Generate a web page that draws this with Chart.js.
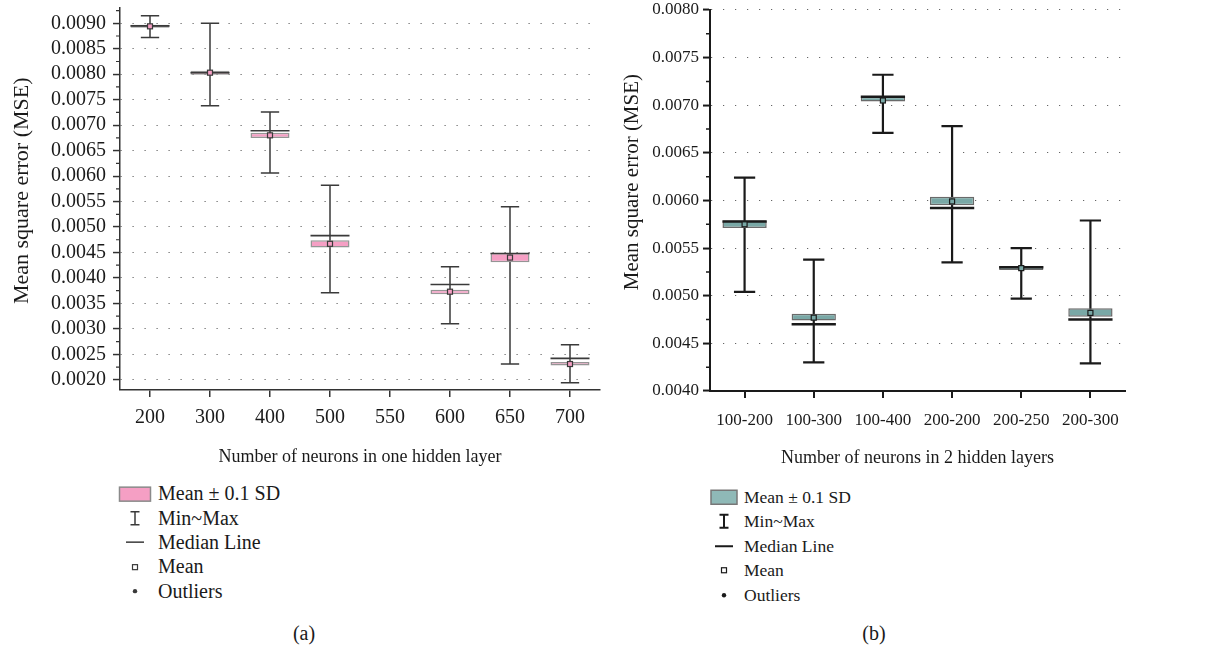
<!DOCTYPE html>
<html>
<head>
<meta charset="utf-8">
<script src="https://cdn.jsdelivr.net/npm/chart.js@4.4.1/dist/chart.umd.min.js"></script>
<style>
  body { margin: 0; background: #fff; width: 1215px; height: 647px; overflow: hidden; position: relative;
         font-family: "Liberation Serif", "Times New Roman", serif; color: #1a1a1a; }
  canvas { position: absolute; top: 0; }
  #chartA { left: 0; }
  #chartB { left: 600px; }
  .row { position: absolute; display: flex; align-items: center; white-space: nowrap; }
  .row svg { flex: none; }
  .cap { position: absolute; font-size: 20px; transform: translate(-50%, -50%); }
</style>
</head>
<body>
<canvas id="chartA" width="605" height="480"></canvas>
<canvas id="chartB" width="615" height="480"></canvas>
<div id="legendA"></div>
<div id="legendB"></div>
<div class="cap" style="left:304px; top:633px;">(a)</div>
<div class="cap" style="left:874px; top:633px;">(b)</div>
<script>
// panel (a): one hidden layer
const leftCats    = ['200', '300', '400', '500', '550', '600', '650', '700'];
const leftMin     = [0.00872, 0.00738, 0.00606, 0.00371, null, 0.00310, 0.00231, 0.00194];
const leftMax     = [0.00915, 0.00900, 0.00726, 0.00582, null, 0.00422, 0.00540, 0.00269];
const leftMean    = [0.00894, 0.00803, 0.00680, 0.00467, null, 0.00373, 0.00440, 0.00231];
const leftMedian  = [0.00895, 0.00803, 0.00689, 0.00483, null, 0.00387, 0.00448, 0.00242];
const leftBoxLow  = [0.00891, 0.00799, 0.00675, 0.00460, null, 0.00368, 0.00431, 0.00228];
const leftBoxHigh = [0.00897, 0.00807, 0.00685, 0.00474, null, 0.00377, 0.00449, 0.00235];
const leftTicks   = [0.0020, 0.0025, 0.0030, 0.0035, 0.0040, 0.0045, 0.0050, 0.0055,
                     0.0060, 0.0065, 0.0070, 0.0075, 0.0080, 0.0085, 0.0090];

// panel (b): two hidden layers
const rightCats    = ['100-200', '100-300', '100-400', '200-200', '200-250', '200-300'];
const rightMin     = [0.00504, 0.00430, 0.00671, 0.00535, 0.00497, 0.00429];
const rightMax     = [0.00624, 0.00538, 0.00732, 0.00678, 0.00550, 0.00579];
const rightMean    = [0.00575, 0.00477, 0.00705, 0.00599, 0.00529, 0.00482];
const rightMedian  = [0.00578, 0.00470, 0.00709, 0.00592, 0.00530, 0.00475];
const rightBoxLow  = [0.00571, 0.00474, 0.00704, 0.00595, 0.00527, 0.00478];
const rightBoxHigh = [0.00579, 0.00481, 0.00709, 0.00604, 0.00531, 0.00487];
const rightTicks   = [0.0040, 0.0045, 0.0050, 0.0055, 0.0060, 0.0065, 0.0070, 0.0075, 0.0080];

const legendItems = ['Mean \u00b1 0.1 SD', 'Min~Max', 'Median Line', 'Mean', 'Outliers'];

const FONT = '"Liberation Serif", serif';

// whiskers, medians, means and the minor y ticks are drawn here, from the chart's own scales
const boxParts = (s) => ({
    id: 'boxParts',
    beforeDatasetsDraw(chart) {
        const { ctx, scales: { x, y } } = chart;
        const bars = chart.getDatasetMeta(0).data;
        ctx.save();
        ctx.strokeStyle = s.ink;
        ctx.lineWidth = s.whiskerW;
        s.min.forEach((lo, i) => {
            if (lo === null) return;
            const cx = x.getPixelForValue(i);
            const yLo = y.getPixelForValue(lo);
            const yHi = y.getPixelForValue(s.max[i]);
            const hw = bars[i].width * s.capRatio / 2;
            ctx.beginPath();
            ctx.moveTo(cx, yLo); ctx.lineTo(cx, yHi);
            ctx.moveTo(cx - hw, yLo); ctx.lineTo(cx + hw, yLo);
            ctx.moveTo(cx - hw, yHi); ctx.lineTo(cx + hw, yHi);
            ctx.stroke();
        });
        ctx.restore();
    },
    afterDatasetsDraw(chart) {
        const { ctx, scales: { x, y } } = chart;
        const bars = chart.getDatasetMeta(0).data;
        ctx.save();
        s.median.forEach((m, i) => {
            if (m === null) return;
            const cx = x.getPixelForValue(i);
            const hw = bars[i].width / 2;
            const ym = y.getPixelForValue(m);
            ctx.strokeStyle = s.ink;
            ctx.lineWidth = s.medianW;
            ctx.beginPath();
            ctx.moveTo(cx - hw, ym); ctx.lineTo(cx + hw, ym);
            ctx.stroke();
            // mean marker
            const yv = y.getPixelForValue(s.mean[i]);
            ctx.fillStyle = s.fill;
            ctx.lineWidth = 1.2;
            ctx.fillRect(cx - 2.5, yv - 2.5, 5, 5);
            ctx.strokeRect(cx - 2.5, yv - 2.5, 5, 5);
        });
        ctx.restore();
    },
    afterDraw(chart) {
        const { ctx, scales: { y } } = chart;
        const step = s.ticks[1] - s.ticks[0];
        ctx.save();
        ctx.strokeStyle = s.axis;
        ctx.lineWidth = s.axisW * 0.8;
        ctx.beginPath();
        for (let k = -1; k < s.ticks.length; k++) {
            const v = s.ticks[0] + (k + 0.5) * step;
            if (v < y.min || v > y.max) continue;
            const py = y.getPixelForValue(v);
            ctx.moveTo(y.right, py); ctx.lineTo(y.right - 4, py);
        }
        ctx.stroke();
        ctx.restore();
    }
});

const drawPanel = (id, s) => {
    new Chart(document.getElementById(id), {
        type: 'bar',
        data: {
            labels: s.cats,
            datasets: [{
                data: s.boxLow.map((v, i) => v === null ? null : [v, s.boxHigh[i]]),
                backgroundColor: s.fill,
                borderColor: s.edge,
                borderWidth: 1.5,
                borderSkipped: false,
                barPercentage: s.barPct,
                categoryPercentage: 1
            }]
        },
        options: {
            responsive: false,
            animation: false,
            layout: { padding: s.pad },
            plugins: { legend: { display: false }, tooltip: { enabled: false } },
            scales: {
                x: {
                    grid: { drawOnChartArea: false, offset: false, tickLength: 7, color: s.axis, lineWidth: s.axisW },
                    border: { color: s.axis, width: s.axisW },
                    ticks: { autoSkip: false, color: '#1a1a1a', padding: s.xPad, font: { family: FONT, size: s.tickSize } },
                    title: { display: true, text: s.xTitle, color: '#1a1a1a', font: { family: FONT, size: 18 },
                             padding: { top: 0, bottom: s.xTitlePad } },
                    afterFit: (sc) => { sc.height = s.xHeight; sc.paddingLeft = 0; sc.paddingRight = 0; }
                },
                y: {
                    min: s.yMin,
                    max: s.yMax,
                    afterBuildTicks: (sc) => { sc.ticks = s.ticks.map(v => ({ value: v })); },
                    grid: { color: '#666', lineWidth: 1.1, tickLength: 7, tickColor: s.axis, tickWidth: s.axisW, tickBorderDash: [] },
                    border: { color: s.axis, width: s.axisW, dash: [1.2, 10.8] },
                    ticks: { autoSkip: false, color: '#1a1a1a', padding: s.yPad, font: { family: FONT, size: s.tickSize },
                             callback: (v) => v.toFixed(4) },
                    title: { display: true, text: s.yTitle, color: '#1a1a1a', font: { family: FONT, size: s.yTitleSize },
                             padding: { top: s.yTitlePad, bottom: 0 } },
                    afterFit: (sc) => { sc.width = s.yWidth; sc.paddingTop = 0; sc.paddingBottom = 0; }
                }
            }
        },
        plugins: [boxParts(s)]
    });
};

// legend drawn in HTML below each panel
const drawLegend = (id, o) => {
    const host = document.getElementById(id);
    const W = o.symW, H = o.dy, c = W / 2, m = H / 2;
    const symbols = [
        `<rect x="${c - o.boxW / 2}" y="${m - 7}" width="${o.boxW}" height="14" fill="${o.fill}" stroke="${o.edge}" stroke-width="1.5"/>`,
        `<path d="M${c} ${m - 6.5}V${m + 6.5}M${c - 4.5} ${m - 6.5}H${c + 4.5}M${c - 4.5} ${m + 6.5}H${c + 4.5}" stroke="${o.ink}" stroke-width="${o.inkW}" fill="none"/>`,
        `<path d="M${c - 9} ${m}H${c + 9}" stroke="${o.ink}" stroke-width="${o.inkW}"/>`,
        `<rect x="${c - 2.5}" y="${m - 2.5}" width="5" height="5" fill="#fff" stroke="${o.ink}" stroke-width="1.2"/>`,
        `<circle cx="${c}" cy="${m}" r="2.2" fill="${o.ink}"/>`
    ];
    legendItems.forEach((txt, i) => {
        const row = document.createElement('div');
        row.className = 'row';
        row.style.left = o.x + 'px';
        row.style.top = (o.y0 + i * o.dy - H / 2) + 'px';
        row.style.height = H + 'px';
        row.style.fontSize = o.fontSize + 'px';
        row.innerHTML = `<svg width="${W}" height="${H}">${symbols[i]}</svg><span style="margin-left:${o.gap}px">${txt}</span>`;
        host.appendChild(row);
    });
};

drawPanel('chartA', {
    cats: leftCats, min: leftMin, max: leftMax, mean: leftMean, median: leftMedian,
    boxLow: leftBoxLow, boxHigh: leftBoxHigh, ticks: leftTicks,
    yMin: 0.0018, yMax: 0.0093,
    fill: '#f59fc4', edge: '#959595', ink: '#3a3a3a', axis: '#333', axisW: 1.5,
    whiskerW: 1.5, medianW: 1.6, capRatio: 0.47, barPct: 0.65,
    tickSize: 20, xPad: 9, yPad: 7, xHeight: 90, xTitlePad: 12, yWidth: 120,
    yTitleSize: 22, yTitlePad: 9,
    pad: { top: 8, right: 5, bottom: 0, left: 0 },
    xTitle: 'Number of neurons in one hidden layer',
    yTitle: '\u00a0\u00a0\u00a0Mean square error (MSE)'
});

drawPanel('chartB', {
    cats: rightCats, min: rightMin, max: rightMax, mean: rightMean, median: rightMedian,
    boxLow: rightBoxLow, boxHigh: rightBoxHigh, ticks: rightTicks,
    yMin: 0.0040, yMax: 0.0080,
    fill: '#79a8a6', edge: '#6a6a6a', ink: '#1a1a1a', axis: '#1a1a1a', axisW: 2,
    whiskerW: 2.2, medianW: 2.5, capRatio: 0.48, barPct: 0.64,
    tickSize: 17, xPad: 12, yPad: 4, xHeight: 89, xTitlePad: 11, yWidth: 110,
    yTitleSize: 21, yTitlePad: 20,
    pad: { top: 10, right: 90, bottom: 0, left: 0 },
    xTitle: 'Number of neurons in 2 hidden layers',
    yTitle: '\u00a0\u00a0\u00a0\u00a0\u00a0\u00a0\u00a0Mean square error (MSE)'
});

drawLegend('legendA', { x: 118, y0: 494, dy: 24.3, symW: 34, boxW: 31, gap: 6, fontSize: 20,
                        fill: '#f59fc4', edge: '#8a8a8a', ink: '#3a3a3a', inkW: 1.5 });
drawLegend('legendB', { x: 709, y0: 497, dy: 24.5, symW: 30, boxW: 26, gap: 5, fontSize: 17.5,
                        fill: '#8fb9b7', edge: '#777', ink: '#1a1a1a', inkW: 2 });
</script>
</body>
</html>
